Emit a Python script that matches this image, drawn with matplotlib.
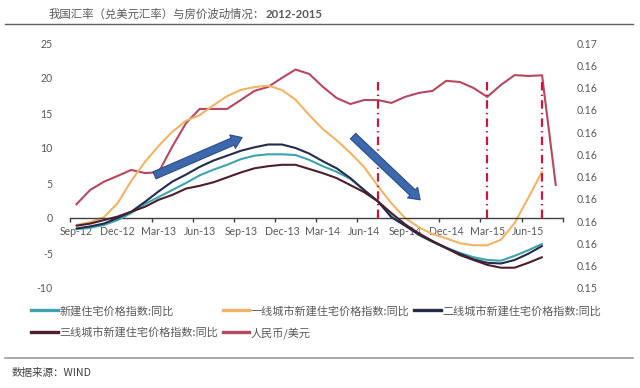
import numpy as np
import matplotlib
matplotlib.use("Agg")
import matplotlib.pyplot as plt
from matplotlib.lines import Line2D
from matplotlib.ticker import FixedLocator, NullFormatter, FixedFormatter

plt.rcParams['font.family'] = ['Lato', 'Noto Sans CJK SC', 'DejaVu Sans']
plt.rcParams['axes.unicode_minus'] = False

# ---------------- data ----------------
months = ['Sep-12', 'Oct-12', 'Nov-12', 'Dec-12', 'Jan-13', 'Feb-13', 'Mar-13', 'Apr-13',
          'May-13', 'Jun-13', 'Jul-13', 'Aug-13', 'Sep-13', 'Oct-13', 'Nov-13', 'Dec-13',
          'Jan-14', 'Feb-14', 'Mar-14', 'Apr-14', 'May-14', 'Jun-14', 'Jul-14', 'Aug-14',
          'Sep-14', 'Oct-14', 'Nov-14', 'Dec-14', 'Jan-15', 'Feb-15', 'Mar-15', 'Apr-15',
          'May-15', 'Jun-15', 'Jul-15', 'Aug-15']

new_home_yoy = [-1.6, -1.4, -1.0, -0.3, 0.7, 2.0, 3.0, 4.0, 5.0, 6.1, 6.9, 7.6, 8.4, 8.9,
                9.1, 9.1, 9.0, 8.3, 7.4, 6.6, 5.6, 4.0, 2.4, 0.3, -1.0, -2.2, -3.3, -4.2,
                -5.0, -5.6, -6.0, -6.1, -5.4, -4.6, -3.7]
tier1_yoy = [-1.0, -0.6, 0.1, 2.1, 5.3, 8.0, 10.3, 12.3, 13.9, 14.7, 16.1, 17.4, 18.3, 18.7,
             18.9, 18.3, 16.9, 14.7, 12.7, 11.1, 9.3, 7.3, 4.6, 2.1, 0.0, -1.3, -2.3, -2.9,
             -3.6, -3.9, -3.9, -3.1, -0.7, 2.9, 6.6]
tier2_yoy = [-1.5, -1.2, -0.8, 0.0, 0.9, 2.3, 3.8, 5.2, 6.2, 7.3, 8.2, 8.9, 9.6, 10.1,
             10.5, 10.5, 10.0, 9.2, 8.1, 7.1, 5.7, 4.0, 2.4, 0.1, -1.1, -2.4, -3.4, -4.3,
             -5.1, -5.9, -6.4, -6.5, -6.0, -5.1, -4.0]
tier3_yoy = [-1.1, -0.8, -0.3, 0.2, 0.9, 1.6, 2.6, 3.3, 4.2, 4.6, 5.1, 5.8, 6.5, 7.1,
             7.4, 7.6, 7.6, 7.0, 6.4, 5.7, 4.7, 3.7, 2.4, 0.7, -0.9, -2.2, -3.3, -4.3,
             -5.3, -6.0, -6.7, -7.1, -7.1, -6.4, -5.6]
cny_usd = [0.15776, 0.15840, 0.15877, 0.15903, 0.15930, 0.15916, 0.15920, 0.16035,
           0.16140, 0.16204, 0.16204, 0.16204, 0.16244, 0.16285, 0.16303, 0.16343,
           0.16381, 0.16361, 0.16303, 0.16253, 0.16226, 0.16244, 0.16244, 0.16231,
           0.16258, 0.16276, 0.16285, 0.16330, 0.16325, 0.16298, 0.16258, 0.16312,
           0.16356, 0.16352, 0.16355, 0.15863]

event_months = ['Jul-14', 'Mar-15', 'Jul-15']

left_ticks = [-10, -5, 0, 5, 10, 15, 20, 25]
right_ticks = [0.154, 0.155, 0.156, 0.157, 0.158, 0.159, 0.160, 0.161, 0.162, 0.163, 0.164, 0.165]
right_labels = ['0.15'] + ['0.16'] * 10 + ['0.17']

labels = ['新建住宅价格指数:同比', '一线城市新建住宅价格指数:同比', '二线城市新建住宅价格指数:同比',
          '三线城市新建住宅价格指数:同比', '人民币/美元']
colors = ['#3FA3AD', '#F2B366', '#232C4B', '#4D1E2C', '#B5475F']

title_cn = '我国汇率（兑美元汇率）与房价波动情况：'
title_yr = '2012-2015'
source = '数据来源：WIND'

# ---------------- figure ----------------
fig = plt.figure(figsize=(6.4, 3.88), dpi=100)
ax = fig.add_axes([69.6 / 640, 1 - 288 / 388, 493 / 640, 245 / 388])
ax2 = ax.twinx()
ax.set_zorder(2)
ax.patch.set_visible(False)

x = np.arange(len(months)) + 0.5
n = len(new_home_yoy)
lw = 1.5
series = [new_home_yoy, tier1_yoy, tier2_yoy, tier3_yoy]
order_z = [3, 2, 4, 5]
for s, c, z in zip(series, colors[:4], order_z):
    ax.plot(x[:n], s, color=c, lw=lw, zorder=z, solid_capstyle='round')
ax2.plot(x, cny_usd, color=colors[4], lw=lw, zorder=3)

ax.set_xlim(0, 36)
ax.set_ylim(-10, 25)
ax2.set_ylim(0.154, 0.165)

# vertical event lines
for m in event_months:
    xi = months.index(m) + 0.5
    ax.plot([xi, xi], [0, 20], color='#C8163C', lw=1.6,
            linestyle=(0, (3.8, 1.9, 0.6, 1.9)), zorder=6)

# arrows
arrow_kw = dict(arrowstyle='simple,head_length=0.75,head_width=1.05,tail_width=0.55',
                fc='#3D68AD', ec='#2B4E86', lw=0.8, shrinkA=0, shrinkB=0)
ax.annotate('', xy=(12.6, 11.5), xytext=(6.2, 6.1),
            arrowprops=dict(mutation_scale=10, **arrow_kw), zorder=7)
ax.annotate('', xy=(25.6, 2.6), xytext=(20.7, 11.7),
            arrowprops=dict(mutation_scale=10, **arrow_kw), zorder=7)

# spines / axis
for a in (ax, ax2):
    for sp in a.spines.values():
        sp.set_visible(False)
ax.spines['bottom'].set_visible(True)
ax.spines['bottom'].set_position(('data', 0))
ax.spines['bottom'].set_color('#404040')
ax.spines['bottom'].set_linewidth(1.0)

ax.xaxis.set_major_locator(FixedLocator(np.arange(0, 37, 3)))
ax.xaxis.set_major_formatter(NullFormatter())
tick_labels = months[::3]
ax.xaxis.set_minor_locator(FixedLocator(np.arange(len(tick_labels)) * 3 + 0.5))
ax.xaxis.set_minor_formatter(FixedFormatter(tick_labels))
ax.tick_params(axis='x', which='major', direction='out', length=3, width=1, color='#404040')
ax.tick_params(axis='x', which='minor', length=0, pad=6, labelsize=7.6, labelcolor='#595959')

ax.set_yticks(left_ticks)
ax.set_yticklabels([str(t) for t in left_ticks])
ax.tick_params(axis='y', length=0, pad=12, labelsize=7.6, labelcolor='#595959')
ax2.set_yticks(right_ticks)
ax2.set_yticklabels(right_labels)
ax2.tick_params(axis='y', length=0, pad=10, labelsize=7.6, labelcolor='#595959')

# legend
handles = [Line2D([], [], color=c, lw=2.4) for c in colors]
ordr = [0, 3, 1, 4, 2]
leg = fig.legend([handles[i] for i in ordr], [labels[i] for i in ordr],
                 loc='upper left', bbox_to_anchor=(31 / 640, 1 - 305.5 / 388), ncol=3,
                 frameon=False, fontsize=8.0, handlelength=2.4, handletextpad=0.15,
                 columnspacing=0.4, borderpad=0, borderaxespad=0, labelspacing=0.95)
for t in leg.get_texts():
    t.set_color('#595959')
    t.set_family(['Noto Sans CJK SC'])

# title and rules
t1 = fig.text(49 / 640, 1 - 14 / 388, title_cn, va='center', ha='left', fontsize=8.2,
              color='#595959', family=['Noto Sans CJK SC'])
fig.canvas.draw()
bb = t1.get_window_extent()
fig.text(bb.x1 / 640, 1 - 14 / 388, title_yr, va='center', ha='left', fontsize=8.2,
         color='#595959', fontweight='bold', family=['Lato'])
fig.add_artist(Line2D([5 / 640, 633 / 640], [1 - 23.5 / 388] * 2, color='#606060', lw=1.0))
fig.add_artist(Line2D([5 / 640, 633 / 640], [1 - 357.5 / 388] * 2, color='#9a9a9a', lw=1.2))
fig.text(12 / 640, 1 - 373 / 388, source, va='center', ha='left', fontsize=7.6,
         color='#404040', style='italic', family=['Noto Sans CJK SC'])

fig.savefig('out.png', dpi=100)
